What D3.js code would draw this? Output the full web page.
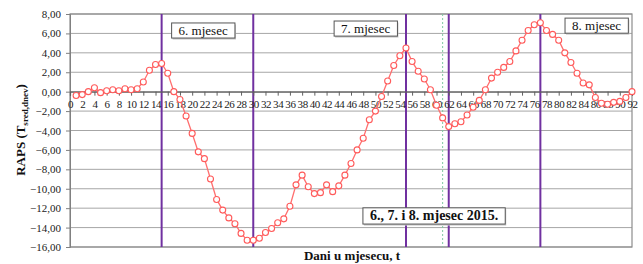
<!DOCTYPE html>
<html>
<head>
<meta charset="utf-8">
<script src="https://cdn.jsdelivr.net/npm/d3@7"></script>
<style>
  body { margin: 0; background: #fff; }
  svg { display: block; }
  svg text { font-family: "Liberation Serif", "Times New Roman", serif; }
</style>
</head>
<body>
<svg id="chart" width="643" height="264"></svg>
<script>
// days 1..92 (June, July, August 2015)
const days = d3.range(1, 93);
const raps = [
  -0.4, -0.3, 0.0, 0.4, -0.1, 0.1, 0.2, 0.1, 0.3, 0.2,
  0.3, 1.0, 2.2, 2.8, 2.9, 1.9, 0.0, -0.8, -2.5, -4.3,
  -6.2, -6.9, -9.0, -11.1, -12.2, -13.0, -13.6, -14.6, -15.3, -15.3,
  -15.1, -14.5, -14.1, -13.5, -13.1, -11.8, -9.6, -8.6, -9.8, -10.5,
  -10.4, -9.6, -10.3, -9.7, -8.6, -7.4, -6.0, -4.8, -2.9, -2.0,
  -0.5, 1.1, 2.7, 3.7, 4.5, 3.1, 2.1, 1.3, 0.2, -1.4,
  -2.7, -3.6, -3.3, -3.1, -2.4, -1.6, -0.9, 0.2, 1.4, 2.0,
  2.5, 3.1, 4.2, 5.3, 6.3, 6.9, 7.1, 6.3, 5.9, 5.3,
  4.0, 3.0, 1.9, 0.9, 0.7, -0.6, -1.2, -1.3, -1.1, -1.0,
  -0.6, 0.0
];
const yTicks = d3.range(-16, 9, 2);
const xTicks = d3.range(0, 93, 2);
const monthLines = [15, 30, 55, 62, 77];
const markerLine = 61;
const monthLabels = [
  { text: "6. mjesec", day: 21.8, v: 6.3 },
  { text: "7. mjesec", day: 48.4, v: 6.5 },
  { text: "8. mjesec", day: 86.2, v: 6.8 }
];
const periodLabel = { text: "6., 7. i 8. mjesec 2015.", day: 59.6, v: -12.8 };

const svg = d3.select("#chart");
const x = d3.scaleLinear().domain([0, 92]).range([70, 632]);
const y = d3.scaleLinear().domain([-16, 8]).range([247, 14]);
const fmt = d => d3.format(".2f")(d).replace(".", ",");

// grid
svg.append("g")
  .selectAll("line")
  .data(yTicks)
  .join("line")
  .attr("x1", x(0)).attr("x2", x(92))
  .attr("y1", d => y(d)).attr("y2", d => y(d))
  .attr("stroke", "#a6a6a6").attr("stroke-width", 1);

// plot frame
svg.append("rect")
  .attr("x", x(0)).attr("y", y(8))
  .attr("width", x(92) - x(0)).attr("height", y(-16) - y(8))
  .attr("fill", "none").attr("stroke", "#8c8c8c").attr("stroke-width", 1.2);

// y axis
const yAxis = svg.append("g")
  .attr("transform", `translate(${x(0)},0)`)
  .call(d3.axisLeft(y).tickValues(yTicks).tickFormat(fmt).tickSize(4).tickPadding(5))
  .attr("font-family", null);
yAxis.select(".domain").attr("stroke", "#808080");
yAxis.selectAll(".tick line").attr("stroke", "#808080");
yAxis.selectAll("text").attr("font-size", 11).attr("fill", "#222");

// vertical month separators
svg.append("g")
  .selectAll("line")
  .data(monthLines)
  .join("line")
  .attr("x1", d => x(d)).attr("x2", d => x(d))
  .attr("y1", y(8)).attr("y2", y(-16))
  .attr("stroke", "#7030a0").attr("stroke-width", 2);

svg.append("line")
  .attr("x1", x(markerLine)).attr("x2", x(markerLine))
  .attr("y1", y(8)).attr("y2", y(-16))
  .attr("stroke", "#7fc9a0").attr("stroke-width", 1)
  .attr("stroke-dasharray", "2,2");

// x axis at zero
const xAxis = svg.append("g")
  .attr("transform", `translate(0,${y(0)})`)
  .call(d3.axisBottom(x).tickValues(xTicks).tickFormat(d3.format("d")).tickSize(4).tickPadding(5))
  .attr("font-family", null);
xAxis.select(".domain").attr("stroke", "#606060").attr("stroke-width", 1.2);
xAxis.selectAll(".tick line").attr("stroke", "#606060");
xAxis.selectAll("text").attr("font-size", 11).attr("fill", "#222")
  .attr("letter-spacing", "-0.4");

// series
const line = d3.line().x((d, i) => x(days[i])).y(d => y(d));
svg.append("path")
  .datum(raps)
  .attr("fill", "none")
  .attr("stroke", "#ff6f6f")
  .attr("stroke-width", 1.3)
  .attr("d", line);

svg.append("g")
  .selectAll("circle")
  .data(raps)
  .join("circle")
  .attr("cx", (d, i) => x(days[i]))
  .attr("cy", d => y(d))
  .attr("r", 3)
  .attr("fill", "#fff")
  .attr("stroke", "#ff5a5a")
  .attr("stroke-width", 1.1);

// label boxes
function box(text, cx, cy, size, weight) {
  const g = svg.append("g");
  const t = g.append("text")
    .attr("x", cx).attr("y", cy)
    .attr("text-anchor", "middle")
    .attr("dominant-baseline", "central")
    .attr("font-size", size)
    .attr("font-weight", weight)
    .attr("fill", "#111")
    .text(text);
  const b = t.node().getBBox();
  g.insert("rect", "text")
    .attr("x", b.x - 7).attr("y", cy - size * 0.58)
    .attr("width", b.width + 14).attr("height", size * 1.16)
    .attr("fill", "#fff")
    .attr("stroke", "#555").attr("stroke-width", 1);
  g.insert("rect", "rect")
    .attr("x", b.x - 6).attr("y", cy - size * 0.58 + 1.5)
    .attr("width", b.width + 14).attr("height", size * 1.16)
    .attr("fill", "#c8c8c8");
}
monthLabels.forEach(m => box(m.text, x(m.day), y(m.v), 13, "normal"));
box(periodLabel.text, x(periodLabel.day), y(periodLabel.v), 14, "bold");

// axis titles
svg.append("text")
  .attr("x", 352).attr("y", 260)
  .attr("text-anchor", "middle")
  .attr("font-size", 13).attr("font-weight", "bold").attr("fill", "#111")
  .text("Dani u mjesecu, t");

const yt = svg.append("text")
  .attr("transform", "translate(25,130) rotate(-90)")
  .attr("text-anchor", "middle")
  .attr("font-size", 13).attr("font-weight", "bold").attr("fill", "#111");
yt.append("tspan").text("RAPS (T");
yt.append("tspan").attr("font-size", 9).attr("dy", 3).text("sred,dnev");
yt.append("tspan").attr("dy", -3).text(")");
</script>
</body>
</html>
